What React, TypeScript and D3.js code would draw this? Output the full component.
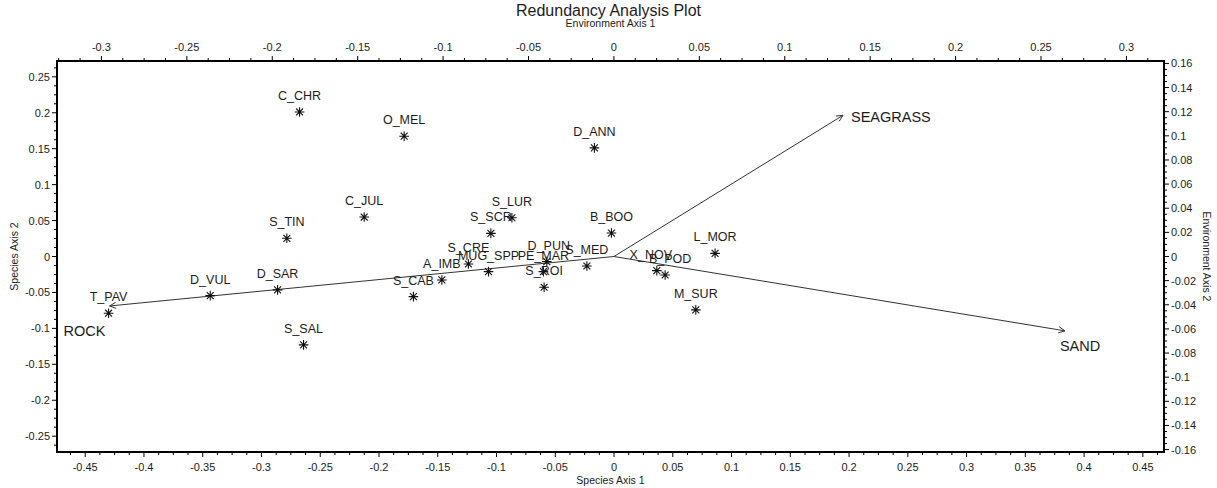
import { useRef, useEffect } from 'react'
import * as d3 from 'd3'

// species scores (Species Axis 1 / 2)
const speciesNames = [
  'C_CHR', 'O_MEL', 'D_ANN', 'C_JUL', 'S_TIN', 'S_LUR', 'S_SCR', 'B_BOO',
  'S_CRE', 'MUG_SPP', 'A_IMB', 'S_CAB', 'D_PUN', 'PE_MAR', 'S_ROI', 'S_MED',
  'X_NOV', 'B_POD', 'L_MOR', 'M_SUR', 'T_PAV', 'D_VUL', 'D_SAR', 'S_SAL'
]
const speciesX = [
  -0.2676, -0.1786, -0.0167, -0.2126, -0.2784, -0.0869, -0.1048, -0.0022,
  -0.1239, -0.1068, -0.1465, -0.1707, -0.0572, -0.0601, -0.0595, -0.0231,
  0.0364, 0.0435, 0.0860, 0.0696, -0.4301, -0.3436, -0.2863, -0.2642
]
const speciesY = [
  0.2011, 0.1674, 0.1511, 0.0549, 0.0253, 0.0539, 0.0322, 0.0326,
  -0.0104, -0.0211, -0.0326, -0.0558, -0.0072, -0.0211, -0.0428, -0.0132,
  -0.0197, -0.0257, 0.0044, -0.0743, -0.0789, -0.0545, -0.0465, -0.1229
]

// environment vectors (Environment Axis 1 / 2)
const envNames = ['SEAGRASS', 'SAND', 'ROCK']
const envX = [0.1341, 0.2640, -0.2952]
const envY = [0.1170, -0.0616, -0.0410]

// tick labels
const bottomTicks = [-0.45, -0.4, -0.35, -0.3, -0.25, -0.2, -0.15, -0.1, -0.05, 0, 0.05, 0.1, 0.15, 0.2, 0.25, 0.3, 0.35, 0.4, 0.45]
const topTicks = [-0.3, -0.25, -0.2, -0.15, -0.1, -0.05, 0, 0.05, 0.1, 0.15, 0.2, 0.25, 0.3]
const leftTicks = [-0.25, -0.2, -0.15, -0.1, -0.05, 0, 0.05, 0.1, 0.15, 0.2, 0.25]
const rightTicks = [-0.16, -0.14, -0.12, -0.1, -0.08, -0.06, -0.04, -0.02, 0, 0.02, 0.04, 0.06, 0.08, 0.1, 0.12, 0.14, 0.16]

const WIDTH = 1217
const HEIGHT = 488
const plot = { left: 57, right: 1164, top: 61, bottom: 452 }
const FONT = 'Arial, "Liberation Sans", sans-serif'
const INK = '#1c1c1c'

// where each vector label sits relative to its arrow tip
const envLabelOffset: Record<string, [number, number]> = {
  SEAGRASS: [8, 7],
  SAND: [-5, 20],
  ROCK: [-46, 30]
}
// small horizontal nudges the original plot applied to crowded labels
const speciesLabelNudge: Record<string, number> = {
  X_NOV: -6,
  B_POD: 5,
  D_PUN: 2
}

const fmt = (v: number) => String(+v.toFixed(4))

export default function App() {
  const svgRef = useRef<SVGSVGElement>(null)

  useEffect(() => {
    if (!svgRef.current) return
    const svg = d3.select(svgRef.current)
    svg.selectAll('*').remove()

    const xSp = d3.scaleLinear().domain([-0.474, 0.468]).range([plot.left, plot.right])
    const ySp = d3.scaleLinear().domain([-0.272, 0.272]).range([plot.bottom, plot.top])
    const xEnv = d3.scaleLinear().domain([-0.326, 0.322]).range([plot.left, plot.right])
    const yEnv = d3.scaleLinear().domain([-0.162, 0.162]).range([plot.bottom, plot.top])

    const minor = (scale: d3.ScaleLinear<number, number>, step: number) => {
      const [a, b] = scale.domain()
      return d3.range(Math.ceil(a / step), Math.floor(b / step) + 1).map(i => i * step)
    }

    // axes: hand-rolled so minor ticks match
    const axisG = svg.append('g').attr('stroke', '#000').attr('stroke-width', 1)

    // bottom
    minor(xSp, 0.0125).forEach(v => {
      const major = bottomTicks.some(t => Math.abs(t - v) < 1e-6)
      axisG.append('line').attr('x1', xSp(v)).attr('x2', xSp(v))
        .attr('y1', plot.bottom).attr('y2', plot.bottom + (major ? 5 : 3))
    })
    // top
    minor(xEnv, 0.0125).forEach(v => {
      const major = topTicks.some(t => Math.abs(t - v) < 1e-6)
      axisG.append('line').attr('x1', xEnv(v)).attr('x2', xEnv(v))
        .attr('y1', plot.top).attr('y2', plot.top - (major ? 5 : 3))
    })
    // left
    minor(ySp, 0.0125).forEach(v => {
      const major = leftTicks.some(t => Math.abs(t - v) < 1e-6)
      axisG.append('line').attr('y1', ySp(v)).attr('y2', ySp(v))
        .attr('x1', plot.left).attr('x2', plot.left - (major ? 5 : 3))
    })
    // right
    minor(yEnv, 0.005).forEach(v => {
      const major = rightTicks.some(t => Math.abs(t - v) < 1e-6)
      axisG.append('line').attr('y1', yEnv(v)).attr('y2', yEnv(v))
        .attr('x1', plot.right).attr('x2', plot.right + (major ? 5 : 3))
    })

    const labels = svg.append('g').attr('font-family', FONT).attr('fill', INK).attr('font-size', 11)

    labels.selectAll('.bt').data(bottomTicks).enter().append('text')
      .attr('x', d => xSp(d)).attr('y', plot.bottom + 19).attr('text-anchor', 'middle').text(fmt)
    labels.selectAll('.tt').data(topTicks).enter().append('text')
      .attr('x', d => xEnv(d)).attr('y', plot.top - 10).attr('text-anchor', 'middle').text(fmt)
    labels.selectAll('.lt').data(leftTicks).enter().append('text')
      .attr('x', plot.left - 7).attr('y', d => ySp(d) + 4).attr('text-anchor', 'end').text(fmt)
    labels.selectAll('.rt').data(rightTicks).enter().append('text')
      .attr('x', plot.right + 7).attr('y', d => yEnv(d) + 4).attr('text-anchor', 'start').text(fmt)

    // titles
    svg.append('text').attr('x', WIDTH / 2).attr('y', 16).attr('text-anchor', 'middle')
      .attr('font-family', FONT).attr('font-size', 16).attr('fill', INK).text('Redundancy Analysis Plot')
    svg.append('text').attr('x', WIDTH / 2 + 2).attr('y', 27).attr('text-anchor', 'middle')
      .attr('font-family', FONT).attr('font-size', 10.5).attr('fill', INK).text('Environment Axis 1')
    svg.append('text').attr('x', WIDTH / 2 + 2).attr('y', 484).attr('text-anchor', 'middle')
      .attr('font-family', FONT).attr('font-size', 10.5).attr('fill', INK).text('Species Axis 1')
    svg.append('text').attr('transform', `translate(18,${(plot.top + plot.bottom) / 2}) rotate(-90)`)
      .attr('text-anchor', 'middle')
      .attr('font-family', FONT).attr('font-size', 10.5).attr('fill', INK).text('Species Axis 2')
    svg.append('text').attr('transform', `translate(1203,${(plot.top + plot.bottom) / 2}) rotate(90)`)
      .attr('text-anchor', 'middle')
      .attr('font-family', FONT).attr('font-size', 10.5).attr('fill', INK).text('Environment Axis 2')

    // environment vectors
    const ox = xEnv(0)
    const oy = yEnv(0)
    const vecG = svg.append('g')
    envNames.forEach((name, i) => {
      const tx = xEnv(envX[i])
      const ty = yEnv(envY[i])
      vecG.append('line').attr('x1', ox).attr('y1', oy).attr('x2', tx).attr('y2', ty)
        .attr('stroke', '#333').attr('stroke-width', 1)
      const ang = Math.atan2(ty - oy, tx - ox)
      const head = 7
      const spread = 0.45
      const path = d3.path()
      path.moveTo(tx - head * Math.cos(ang - spread), ty - head * Math.sin(ang - spread))
      path.lineTo(tx, ty)
      path.lineTo(tx - head * Math.cos(ang + spread), ty - head * Math.sin(ang + spread))
      vecG.append('path').attr('d', path.toString()).attr('fill', 'none')
        .attr('stroke', '#333').attr('stroke-width', 1)
      const [dx, dy] = envLabelOffset[name]
      vecG.append('text').attr('x', tx + dx).attr('y', ty + dy)
        .attr('font-family', FONT).attr('font-size', 14.5).attr('fill', INK).text(name)
    })

    // species stars and labels
    const spG = svg.append('g')
    const r = 4.8
    const d = r * 0.72
    const star = `M0,${-r}L0,${r}M${-r},0L${r},0M${-d},${-d}L${d},${d}M${-d},${d}L${d},${-d}`
    speciesNames.forEach((name, i) => {
      const px = xSp(speciesX[i])
      const py = ySp(speciesY[i])
      spG.append('path').attr('d', star).attr('transform', `translate(${px},${py})`)
        .attr('stroke', '#111').attr('stroke-width', 1.1).attr('fill', 'none')
      spG.append('text').attr('x', px + (speciesLabelNudge[name] || 0)).attr('y', py - 12)
        .attr('text-anchor', 'middle')
        .attr('font-family', FONT).attr('font-size', 12.5).attr('fill', INK).text(name)
    })

    // plot frame
    svg.append('rect')
      .attr('x', plot.left).attr('y', plot.top)
      .attr('width', plot.right - plot.left).attr('height', plot.bottom - plot.top)
      .attr('fill', 'none').attr('stroke', '#000').attr('stroke-width', 2)
  }, [])

  return (
    <div>
      <style>{'body{margin:0;background:#fff}'}</style>
      <svg ref={svgRef} width={WIDTH} height={HEIGHT} style={{ display: 'block' }} />
    </div>
  )
}
